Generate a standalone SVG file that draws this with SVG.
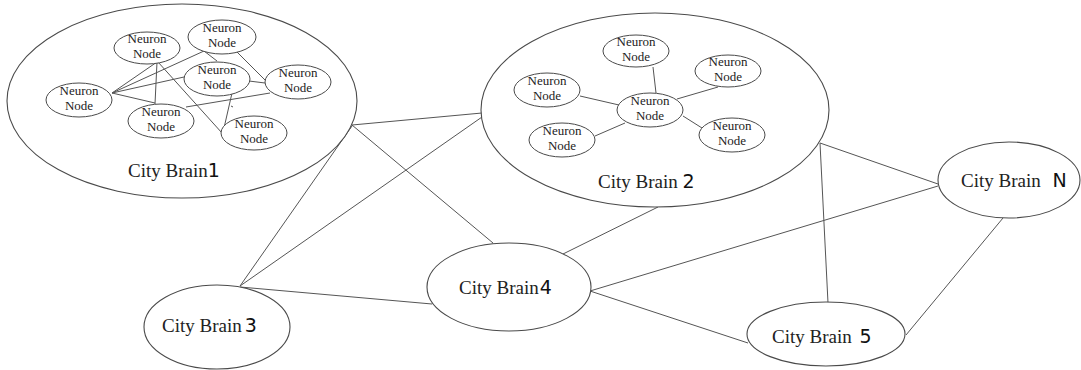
<svg xmlns="http://www.w3.org/2000/svg" width="1081" height="370" viewBox="0 0 1081 370">
<style>
.big{fill:#fff;stroke:#4a4a4a;stroke-width:1.1}
.nn{fill:#fff;stroke:#4a4a4a;stroke-width:1}
.ln{stroke:#555;stroke-width:1;fill:none}
.nt{font-family:"Liberation Serif","Times New Roman",serif;font-size:13px;fill:#222;text-anchor:middle}
.ct{font-family:"Liberation Serif","Times New Roman",serif;font-size:19px;fill:#222}
.dg{font-family:"DejaVu Sans","Liberation Sans",sans-serif;font-size:19px;fill:#111}
</style>
<rect width="1081" height="370" fill="#fff"/>
<g id="connectors" class="ln">
<line x1="352" y1="125" x2="482" y2="113"/>
<line x1="352" y1="125" x2="493" y2="243"/>
<line x1="352" y1="126" x2="240" y2="286"/>
<line x1="482" y1="117" x2="240" y2="286"/>
<line x1="240" y1="287" x2="432" y2="304"/>
<line x1="658" y1="207" x2="563" y2="254"/>
<line x1="590" y1="291" x2="938" y2="186"/>
<line x1="590" y1="291" x2="748" y2="343"/>
<line x1="820" y1="143" x2="828" y2="303"/>
<line x1="820" y1="143" x2="938" y2="184"/>
<line x1="1003" y1="218" x2="906" y2="335"/>
</g>
<g id="cb1">
<ellipse class="big" cx="182" cy="101" rx="175" ry="97"/>
<g class="ln">
<line x1="112" y1="93" x2="157" y2="62"/>
<line x1="112" y1="93" x2="204" y2="51"/>
<line x1="112" y1="93" x2="184" y2="77"/>
<line x1="112" y1="93" x2="155" y2="103"/>
<line x1="157" y1="62" x2="155" y2="104"/>
<line x1="158" y1="62" x2="222" y2="133"/>
<line x1="204" y1="51" x2="217" y2="61"/>
<line x1="237" y1="52" x2="267" y2="82"/>
<line x1="249" y1="81" x2="265" y2="83"/>
<line x1="270" y1="93" x2="186" y2="107"/>
<line x1="232" y1="93" x2="224" y2="128"/>
<line x1="231" y1="106" x2="233" y2="107"/>
</g>
<g id="cb1-n1"><ellipse class="nn" cx="147" cy="48" rx="33" ry="16"/><text class="nt" x="147" y="43">Neuron</text><text class="nt" x="147" y="58">Node</text></g>
<g id="cb1-n2"><ellipse class="nn" cx="222" cy="37" rx="34" ry="17"/><text class="nt" x="222" y="32">Neuron</text><text class="nt" x="222" y="47">Node</text></g>
<g id="cb1-n3"><ellipse class="nn" cx="217" cy="79" rx="33" ry="17"/><text class="nt" x="217" y="74">Neuron</text><text class="nt" x="217" y="89">Node</text></g>
<g id="cb1-n4"><ellipse class="nn" cx="298" cy="82" rx="33" ry="17"/><text class="nt" x="298" y="77">Neuron</text><text class="nt" x="298" y="92">Node</text></g>
<g id="cb1-n5"><ellipse class="nn" cx="79" cy="100" rx="33" ry="17"/><text class="nt" x="79" y="95">Neuron</text><text class="nt" x="79" y="110">Node</text></g>
<g id="cb1-n6"><ellipse class="nn" cx="161" cy="121" rx="33" ry="17"/><text class="nt" x="161" y="116">Neuron</text><text class="nt" x="161" y="131">Node</text></g>
<g id="cb1-n7"><ellipse class="nn" cx="254" cy="133" rx="33" ry="17"/><text class="nt" x="254" y="128">Neuron</text><text class="nt" x="254" y="143">Node</text></g>
<text class="ct" x="128" y="177">City Brain<tspan class="dg">1</tspan></text>
</g>
<g id="cb2">
<ellipse class="big" cx="655" cy="110" rx="174" ry="97"/>
<g class="ln">
<line x1="653" y1="67" x2="656" y2="93"/>
<line x1="718" y1="87" x2="677" y2="99"/>
<line x1="580" y1="96" x2="619" y2="105"/>
<line x1="595" y1="136" x2="625" y2="123"/>
<line x1="683" y1="116" x2="702" y2="128"/>
</g>
<g id="cb2-n1"><ellipse class="nn" cx="636" cy="51" rx="33" ry="16"/><text class="nt" x="636" y="46">Neuron</text><text class="nt" x="636" y="61">Node</text></g>
<g id="cb2-n2"><ellipse class="nn" cx="728" cy="71" rx="33" ry="16"/><text class="nt" x="728" y="66">Neuron</text><text class="nt" x="728" y="81">Node</text></g>
<g id="cb2-n3"><ellipse class="nn" cx="547" cy="90" rx="33" ry="17"/><text class="nt" x="547" y="85">Neuron</text><text class="nt" x="547" y="100">Node</text></g>
<g id="cb2-n4"><ellipse class="nn" cx="650" cy="110" rx="33" ry="17"/><text class="nt" x="650" y="105">Neuron</text><text class="nt" x="650" y="120">Node</text></g>
<g id="cb2-n5"><ellipse class="nn" cx="562" cy="140" rx="33" ry="17"/><text class="nt" x="562" y="135">Neuron</text><text class="nt" x="562" y="150">Node</text></g>
<g id="cb2-n6"><ellipse class="nn" cx="732" cy="135" rx="33" ry="17"/><text class="nt" x="732" y="130">Neuron</text><text class="nt" x="732" y="145">Node</text></g>
<text class="ct" x="598" y="188">City Brain <tspan class="dg">2</tspan></text>
</g>
<g id="cb3">
<ellipse class="big" cx="217" cy="327" rx="73" ry="42"/>
<text class="ct" x="162" y="332">City Brain<tspan class="dg" dx="3">3</tspan></text>
</g>
<g id="cb4">
<ellipse class="big" cx="509" cy="287" rx="82" ry="44"/>
<text class="ct" x="459" y="294">City Brain<tspan class="dg" dx="1">4</tspan></text>
</g>
<g id="cb5">
<ellipse class="big" cx="826" cy="334" rx="79" ry="32"/>
<text class="ct" x="772" y="343">City Brain <tspan class="dg" dx="3">5</tspan></text>
</g>
<g id="cbn">
<ellipse class="big" cx="1009" cy="180" rx="71" ry="38"/>
<text class="ct" x="961" y="187">City Brain <tspan class="dg" dx="7">N</tspan></text>
</g>
</svg>
